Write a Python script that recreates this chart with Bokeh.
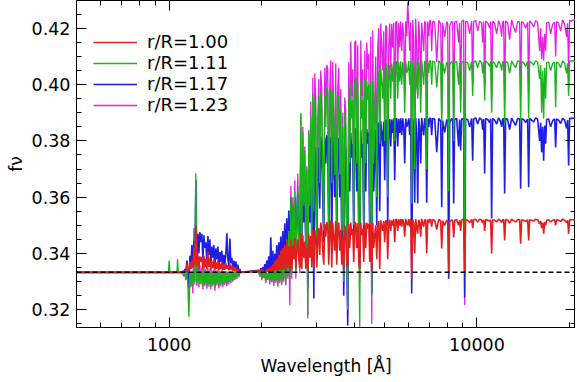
from bokeh.plotting import figure
from bokeh.models import (ColumnDataSource, Span, Legend, LegendItem, LogAxis, LinearAxis,
                          FixedTicker, SingleIntervalTicker, PrintfTickFormatter,
                          CustomJSTickFormatter, Range1d)
from bokeh.embed import file_html
from bokeh.resources import INLINE

# ---------------- data ----------------
FLUX_UNIT = 1e-4   # flux lists below are in units of 1e-4

# wavelength grid [Angstrom], shared by the four spectra
wl_far = [500, 995, 1000, 1005, 1060, 1065, 1070]
wl_uv = [1100, 1108, 1116, 1125, 1133, 1142, 1150, 1159, 1168, 1176,
         1185, 1194, 1203, 1212, 1221, 1230, 1240, 1249, 1258, 1268,
         1277, 1287, 1297, 1306, 1316, 1326, 1336, 1346, 1356, 1366,
         1376, 1387, 1397, 1408, 1418, 1429, 1440, 1450, 1461, 1472,
         1483, 1494, 1506, 1517, 1528, 1540, 1551, 1563, 1575, 1586,
         1598, 1610, 1622, 1635, 1647, 1659, 1672, 1684, 1697, 1710]
wl_opt = [1955, 1970, 1985, 2000, 2015, 2030, 2045, 2060, 2076, 2091, 2107, 2123, 2139, 2155,
          2171, 2187, 2204, 2220, 2237, 2254, 2271, 2288,
          2305, 2322, 2340, 2357, 2375, 2393, 2411, 2429, 2447, 2466, 2485, 2503, 2522, 2541,
          2560, 2579, 2599, 2618, 2638, 2657,
          2677, 2697, 2718, 2738, 2759, 2779, 2800, 2821, 2842, 2863, 2885, 2907, 2929, 2951,
          2973, 2995, 3017, 3040, 3063, 3085,
          3108, 3131, 3155, 3179, 3203, 3227, 3251, 3275, 3300, 3325, 3350, 3375, 3400, 3425,
          3451, 3477, 3503, 3529, 3556, 3583, 3610, 3637, 3664, 3691, 3719, 3747,
          3775, 3803, 3832, 3861, 3890, 3919, 3948, 3978, 4008, 4038, 4068, 4099, 4130, 4161,
          4193, 4224, 4256, 4288, 4320, 4352, 4385, 4418, 4451, 4484, 4518, 4552, 4586, 4620,
          4655, 4690,
          4725, 4760, 4796, 4832, 4868, 4905, 4942, 4979, 5016, 5054, 5092, 5130, 5168, 5207,
          5246, 5285, 5325, 5365, 5405, 5446, 5487, 5528, 5570, 5612, 5654,
          5696, 5739, 5782, 5825, 5869, 5913, 5957, 6002, 6047, 6092, 6138, 6184, 6230, 6277,
          6324, 6372, 6420, 6468, 6516, 6565, 6614, 6664, 6714, 6765, 6816, 6867, 6918, 6970,
          7022, 7074, 7127, 7181]
wl_ir = [7292, 7402, 7513, 7626, 7683, 7740, 7856, 7974, 8034, 8094,
         8155, 8277, 8339, 8402, 8465, 8592, 8718, 8783, 8852, 8918,
         9052, 9120, 9188, 9330, 9469, 9611, 9683, 9756, 9903, 10053,
         10203, 10357, 10435, 10513, 10593, 10672, 10833, 10996, 11078, 11161,
         11245, 11414, 11588, 11762, 11939, 12029, 12119, 12210, 12301, 12393,
         12581, 12771, 12963, 13158, 13355, 13555, 13759, 13865, 13969, 14181,
         14393, 14610, 14720, 14830, 15054, 15280, 15510, 15743, 15982, 16102,
         16223, 16345, 16469, 16593, 16717, 16842, 17096, 17352, 17613, 17879,
         18014, 18149, 18423, 18697, 18982, 19267, 19556, 19703, 19852, 20001,
         20302, 20606, 20917]

# f_nu for r/R = 1.00
r100_far = [3333, 3333, 3333, 3333, 3333, 3333, 3333]
r100_uv = [3333, 3335, 3333, 3338, 3334, 3362, 3338, 3336, 3370, 3345,
           3375, 3350, 3420, 3360, 3500, 3355, 3395, 3345, 3390, 3370,
           3388, 3342, 3392, 3350, 3380, 3345, 3405, 3352, 3385, 3340,
           3372, 3348, 3380, 3340, 3368, 3345, 3375, 3340, 3362, 3344,
           3370, 3340, 3360, 3342, 3365, 3345, 3358, 3340, 3362, 3342,
           3358, 3338, 3352, 3336, 3350, 3335, 3345, 3334, 3338, 3333]
r100_opt = [3338, 3333, 3340, 3333, 3342, 3334, 3336, 3332, 3345, 3335, 3348, 3333, 3352, 3336,
            3360, 3334, 3372, 3338, 3380, 3335, 3395, 3342,
            3410, 3340, 3420, 3345, 3430, 3338, 3445, 3350, 3425, 3338,
            3450, 3345, 3430, 3380, 3455, 3345, 3410, 3450, 3380, 3350,
            3470, 3345, 3465, 3385, 3442, 3345, 3420, 3340, 3468, 3385,
            3462, 3350, 3485, 3345, 3482, 3462, 3350, 3440, 3490, 3395,
            3510, 3485, 3410, 3360, 3505, 3460, 3512, 3500, 3360, 3485,
            3517, 3350, 3510, 3460, 3410, 3515, 3360, 3485, 3510, 3410,
            3485, 3360, 3460, 3340, 3500, 3480, 3370, 3350, 3505, 3420,
            3510, 3465, 3488, 3370, 3512, 3505, 3420, 3507, 3370, 3345,
            3510, 3465, 3488, 3370, 3508, 3420, 3510, 3488, 3505, 3370,
            3510, 3334, 3508, 3420, 3465, 3500, 3380, 3499, 3515, 3345,
            3518, 3499, 3480, 3515, 3440, 3518, 3512, 3380, 3499, 3520,
            3480, 3518, 3499, 3522, 3440, 3520, 3522, 3480, 3521, 3499,
            3522, 3495, 3522, 3508, 3460, 3523, 3508, 3500, 3522, 3495,
            3522, 3310, 3520, 3508, 3400, 3522, 3495, 3470, 3520, 3508,
            3460, 3523, 3508, 3495, 3520, 3518, 3400, 3521, 3508, 3522,
            3520, 3495, 3520]
r100_ir = [3518, 3485, 3521, 3515, 3418, 3516, 3500, 3518, 3514, 3328,
           3512, 3520, 3515, 3457, 3518, 3520, 3500, 3518, 3480, 3520,
           3522, 3334, 3520, 3518, 3510, 3521, 3490, 3520, 3522, 3512,
           3522, 3518, 3508, 3520, 3480, 3521, 3518, 3515, 3520, 3400,
           3520, 3518, 3512, 3522, 3516, 3510, 3520, 3521, 3446, 3521,
           3518, 3508, 3522, 3516, 3512, 3521, 3520, 3435, 3520, 3518,
           3513, 3520, 3446, 3520, 3518, 3515, 3522, 3520, 3505, 3515,
           3490, 3510, 3470, 3512, 3500, 3518, 3520, 3512, 3518, 3520,
           3500, 3520, 3518, 3514, 3522, 3518, 3510, 3518, 3470, 3521,
           3520, 3520, 3520]

# f_nu for r/R = 1.11
r111_far = [3333, 3333, 3375, 3333, 3333, 3379, 3333]
r111_uv = [3333, 3328, 3322, 3330, 3310, 3332, 3300, 3174, 3334, 3290,
           3336, 3285, 3340, 3300, 3685, 3295, 3335, 3290, 3338, 3296,
           3340, 3282, 3342, 3292, 3336, 3285, 3340, 3290, 3338, 3280,
           3336, 3292, 3338, 3278, 3336, 3294, 3338, 3285, 3335, 3292,
           3336, 3288, 3334, 3296, 3336, 3292, 3334, 3298, 3335, 3300,
           3334, 3305, 3334, 3310, 3334, 3315, 3333, 3320, 3333, 3333]
r111_opt = [3336, 3322, 3334, 3310, 3335, 3318, 3333, 3300, 3332, 3312, 3336, 3298, 3338, 3305,
            3340, 3292, 3342, 3305, 3348, 3290, 3355, 3302,
            3360, 3296, 3370, 3310, 3400, 3295, 3450, 3320, 3480, 3300,
            3600, 3330, 3570, 3420, 3620, 3330, 3520, 3640, 3420, 3350,
            3897, 3420, 3830, 3570, 3765, 3420, 3700, 3180, 3826, 3570,
            3885, 3450, 3968, 3550, 3950, 3885, 3450, 3820, 3955, 3650,
            3975, 3912, 3680, 3480, 3960, 3850, 3990, 3970, 3480, 3912,
            3980, 3650, 3975, 3850, 3680, 3965, 3480, 3912, 3960, 3680,
            3912, 3480, 3850, 3300, 3900, 3850, 3500, 3200, 3950, 3720,
            4000, 3880, 3945, 3500, 4010, 4025, 3720, 4005, 3500, 3140,
            4010, 3880, 3945, 3500, 4020, 3720, 4015, 3945, 4000, 3500,
            4012, 3250, 4015, 3720, 3880, 3990, 3600, 4010, 4050, 3790,
            4060, 4010, 3950, 4065, 3800, 4075, 4068, 3600, 4010, 4070,
            3950, 4075, 4010, 4080, 3800, 4078, 4082, 3950, 4080, 4010,
            4083, 4000, 4080, 4042, 3900, 4082, 4042, 4050, 4084, 4000,
            4084, 3578, 4080, 4042, 3700, 4085, 4000, 3960, 4080, 4042,
            3900, 4086, 4042, 4000, 4084, 4078, 3700, 4083, 4042, 4085,
            4084, 4000, 4084]
r111_ir = [4080, 3990, 4085, 4075, 3850, 4078, 4040, 4080, 4075, 3620,
           4070, 4082, 4075, 3800, 4080, 4082, 4000, 4078, 3900, 4080,
           4083, 3400, 4080, 4078, 4050, 4082, 3960, 4080, 4085, 4060,
           4086, 4078, 4040, 4080, 3944, 4084, 4078, 4065, 4082, 3900,
           4082, 4076, 4060, 4084, 4070, 4050, 4080, 4083, 3860, 4083,
           4078, 4040, 4085, 4070, 4060, 4084, 4082, 3870, 4082, 4078,
           4065, 4082, 3880, 4083, 4078, 4070, 4085, 4080, 4020, 4070,
           3900, 4050, 3880, 4060, 3950, 4078, 4080, 4050, 4075, 4080,
           3920, 4080, 4076, 4060, 4085, 4076, 4040, 4076, 3960, 4084,
           4084, 4084, 4083]

# f_nu for r/R = 1.17
r117_far = [3333, 3333, 3333, 3333, 3333, 3333, 3333]
r117_uv = [3333, 3338, 3331, 3345, 3332, 3375, 3340, 3276, 3392, 3345,
           3430, 3350, 3445, 3380, 3660, 3360, 3470, 3400, 3476, 3440,
           3470, 3380, 3465, 3420, 3440, 3360, 3462, 3395, 3450, 3350,
           3425, 3385, 3430, 3345, 3418, 3380, 3425, 3350, 3405, 3370,
           3410, 3352, 3395, 3360, 3400, 3472, 3380, 3355, 3453, 3365,
           3385, 3350, 3375, 3345, 3372, 3342, 3360, 3338, 3345, 3333]
r117_opt = [3340, 3330, 3348, 3328, 3352, 3332, 3362, 3326, 3375, 3338, 3390, 3330, 3458, 3340,
            3410, 3328, 3400, 3342, 3430, 3325, 3440, 3345,
            3460, 3338, 3480, 3350, 3507, 3336, 3525, 3360, 3553, 3330,
            3600, 3360, 3560, 3450, 3600, 3360, 3520, 3610, 3450, 3380,
            3720, 3400, 3720, 3510, 3670, 3400, 3620, 3280, 3725, 3510,
            3730, 3420, 3790, 3240, 3780, 3730, 3420, 3680, 3777, 3560,
            3815, 3768, 3600, 3440, 3810, 3720, 3820, 3805, 3440, 3768,
            3815, 3400, 3826, 3720, 3600, 3815, 3440, 3768, 3810, 3600,
            3768, 3440, 3720, 3250, 3790, 3766, 3450, 3144, 3820, 3620,
            3830, 3740, 3790, 3450, 3840, 3845, 3620, 3838, 3450, 3350,
            3840, 3740, 3790, 3450, 3845, 3620, 3842, 3790, 3830, 3450,
            3845, 3258, 3845, 3620, 3740, 3840, 3500, 3828, 3865, 3550,
            3870, 3828, 3780, 3868, 3660, 3875, 3870, 3500, 3828, 3878,
            3780, 3876, 3828, 3880, 3660, 3878, 3880, 3780, 3879, 3828,
            3880, 3820, 3880, 3850, 3720, 3880, 3850, 3860, 3880, 3820,
            3881, 3258, 3880, 3850, 3580, 3882, 3820, 3578, 3880, 3850,
            3720, 3882, 3850, 3820, 3880, 3876, 3580, 3880, 3850, 3881,
            3880, 3820, 3880]
r117_ir = [3878, 3760, 3880, 3870, 3564, 3872, 3830, 3876, 3870, 3310,
           3865, 3880, 3872, 3578, 3876, 3880, 3780, 3876, 3766, 3878,
           3880, 3244, 3878, 3876, 3850, 3880, 3730, 3878, 3882, 3860,
           3882, 3876, 3840, 3878, 3684, 3880, 3876, 3865, 3879, 3524,
           3880, 3874, 3860, 3882, 3868, 3850, 3878, 3880, 3613, 3880,
           3876, 3840, 3881, 3868, 3855, 3880, 3878, 3630, 3879, 3876,
           3865, 3878, 3635, 3880, 3874, 3868, 3882, 3878, 3800, 3865,
           3760, 3850, 3730, 3855, 3790, 3876, 3878, 3850, 3872, 3878,
           3777, 3878, 3874, 3862, 3880, 3874, 3845, 3874, 3713, 3880,
           3880, 3881, 3881]

# f_nu for r/R = 1.23
r123_far = [3333, 3333, 3333, 3333, 3333, 3333, 3333]
r123_uv = [3333, 3326, 3318, 3328, 3305, 3330, 3295, 3270, 3332, 3280,
           3334, 3258, 3490, 3290, 3480, 3285, 3380, 3280, 3360, 3290,
           3350, 3272, 3352, 3285, 3345, 3275, 3350, 3282, 3345, 3272,
           3340, 3284, 3342, 3268, 3340, 3286, 3342, 3276, 3338, 3284,
           3340, 3280, 3336, 3288, 3338, 3284, 3336, 3290, 3336, 3294,
           3336, 3300, 3335, 3305, 3334, 3310, 3333, 3316, 3333, 3333]
r123_opt = [3335, 3318, 3333, 3305, 3334, 3312, 3332, 3295, 3330, 3306, 3334, 3290, 3336, 3298,
            3338, 3285, 3340, 3296, 3345, 3282, 3350, 3294,
            3355, 3288, 3365, 3300, 3395, 3286, 3440, 3310, 3470, 3216,
            3640, 3310, 3600, 3420, 3660, 3310, 3540, 3684, 3420, 3330,
            3897, 3400, 3850, 3560, 3780, 3400, 3710, 3170, 3840, 3560,
            3940, 3430, 4025, 3540, 4040, 3940, 3430, 3860, 4020, 3650,
            4050, 3985, 3680, 3450, 4060, 3900, 4070, 4055, 3450, 3985,
            4086, 3640, 4080, 3900, 3680, 4075, 3450, 3985, 4060, 3680,
            3985, 3450, 3900, 3280, 3954, 3900, 3480, 3180, 4080, 3740,
            4153, 3960, 4055, 3480, 4150, 4157, 3740, 4140, 3480, 3300,
            4157, 3960, 4055, 3480, 4120, 3740, 4150, 4055, 4110, 3480,
            4170, 3150, 4192, 3740, 3960, 4100, 3600, 4132, 4200, 3780,
            4217, 4132, 4050, 4190, 3850, 4210, 4205, 3600, 4132, 4217,
            4050, 4215, 4132, 4220, 3850, 4222, 4225, 4050, 4220, 4132,
            4224, 4120, 4220, 4172, 3960, 4225, 4172, 4293, 4215, 4120,
            4222, 3560, 4230, 4172, 3750, 4235, 4120, 3950, 4225, 4172,
            3960, 4220, 4172, 4120, 4225, 4218, 3750, 4224, 4172, 4229,
            4225, 4120, 4225]
r123_ir = [4222, 4080, 4228, 4215, 3900, 4220, 4170, 4224, 4218, 3600,
           4210, 4225, 4218, 3850, 4222, 4226, 4150, 4220, 3950, 4225,
           4230, 3216, 4225, 4222, 4180, 4226, 4000, 4224, 4228, 4190,
           4225, 4220, 4150, 4224, 4000, 4226, 4220, 4200, 4224, 3950,
           4225, 4218, 4180, 4228, 4205, 4170, 4222, 4226, 3950, 4226,
           4220, 4160, 4230, 4205, 4185, 4225, 4222, 3960, 4224, 4218,
           4200, 4222, 3970, 4226, 4218, 4205, 4228, 4222, 4120, 4200,
           4090, 4170, 4086, 4180, 4120, 4218, 4222, 4180, 4215, 4222,
           4100, 4224, 4218, 4190, 4230, 4215, 4170, 4218, 4050, 4228,
           4226, 4230, 4231]

series_labels = ["r/R=1.00", "r/R=1.11", "r/R=1.17", "r/R=1.23"]
series_colors = ["#e41e1e", "#19b419", "#1e1ee6", "#e61ee6"]
series_widths = [1.6, 1.35, 1.6, 1.3]
ISOTROPIC_LEVEL = 1.0 / 3.0

x_major_ticks = [1000, 10000]
x_minor_ticks = [600, 700, 800, 900, 2000, 3000, 4000, 5000, 6000, 7000, 8000, 9000, 20000]
X_RANGE = (500, 20900)
Y_RANGE = (0.3137, 0.4299)

# ---------------- assemble ----------------
wavelength = wl_far + wl_uv + wl_opt + wl_ir
raw = {
    "r100": r100_far + r100_uv + r100_opt + r100_ir,
    "r111": r111_far + r111_uv + r111_opt + r111_ir,
    "r117": r117_far + r117_uv + r117_opt + r117_ir,
    "r123": r123_far + r123_uv + r123_opt + r123_ir,
}
flux = {}
for k, v in raw.items():
    assert len(v) == len(wavelength), (k, len(v), len(wavelength))
    flux[k] = [f * FLUX_UNIT for f in v]

src = ColumnDataSource(dict(wl=wavelength, **flux))

FONT = "DejaVu Sans"

p = figure(width=575, height=381, x_axis_type="log",
           x_range=Range1d(*X_RANGE), y_range=Range1d(*Y_RANGE),
           output_backend="svg", toolbar_location=None,
           min_border_left=76, min_border_right=0, min_border_top=0, min_border_bottom=54)
p.background_fill_color = "white"
p.border_fill_color = "white"
p.outline_line_color = "black"
p.outline_line_width = 1
p.xgrid.visible = False
p.ygrid.visible = False

# draw order: 1.23 (bottom) .. 1.00 (top)
keys = ["r100", "r111", "r117", "r123"]
renderers = {}
for key, color, lw in reversed(list(zip(keys, series_colors, series_widths))):
    renderers[key] = p.line("wl", key, source=src, line_color=color, line_width=lw)

p.add_layout(Span(location=ISOTROPIC_LEVEL, dimension="width", line_color="black",
                  line_dash="5 3", line_width=1.5))

legend = Legend(items=[LegendItem(label=lab, renderers=[renderers[k]])
                       for lab, k in zip(series_labels, keys)],
                location=(17, 212), orientation="vertical")
legend.label_text_font = FONT
legend.label_text_font_size = "18px"
legend.label_text_color = "black"
legend.glyph_width = 44
legend.glyph_height = 20
legend.label_height = 20
legend.label_standoff = 10
legend.spacing = 0
legend.padding = 0
legend.margin = 0
legend.border_line_color = None
legend.background_fill_alpha = 0
p.add_layout(legend)

xticker = FixedTicker(ticks=x_major_ticks, minor_ticks=x_minor_ticks)
yticker = SingleIntervalTicker(interval=0.02, num_minor_ticks=4)


def style_axis(ax):
    ax.major_tick_in = 10
    ax.major_tick_out = 0
    ax.minor_tick_in = 5
    ax.minor_tick_out = 0
    ax.axis_line_color = "black"
    ax.major_tick_line_color = "black"
    ax.minor_tick_line_color = "black"
    ax.major_label_text_font = FONT
    ax.major_label_text_font_size = "17.5px"
    ax.major_label_text_color = "black"
    ax.axis_label_text_font = FONT
    ax.axis_label_text_font_size = "17px"
    ax.axis_label_text_font_style = "normal"
    ax.axis_label_text_color = "black"


xa = p.xaxis[0]
xa.ticker = xticker
xa.formatter = PrintfTickFormatter(format="%d")
xa.axis_label = "Wavelength [Å]"
xa.major_label_standoff = 10
xa.axis_label_standoff = 2
style_axis(xa)

ya = p.yaxis[0]
ya.ticker = yticker
ya.formatter = PrintfTickFormatter(format="%.2f")
ya.axis_label = "fν"
ya.major_label_standoff = 6
ya.axis_label_standoff = 3
style_axis(ya)

blank = CustomJSTickFormatter(code="return ''")
top = LogAxis(ticker=xticker, formatter=blank)
style_axis(top)
top.major_label_text_font_size = "0px"
top.major_label_standoff = 0
right = LinearAxis(ticker=yticker, formatter=blank)
style_axis(right)
right.major_label_text_font_size = "0px"
right.major_label_standoff = 0
p.add_layout(top, "above")
p.add_layout(right, "right")

open("out.html", "w").write(file_html(p, INLINE))
